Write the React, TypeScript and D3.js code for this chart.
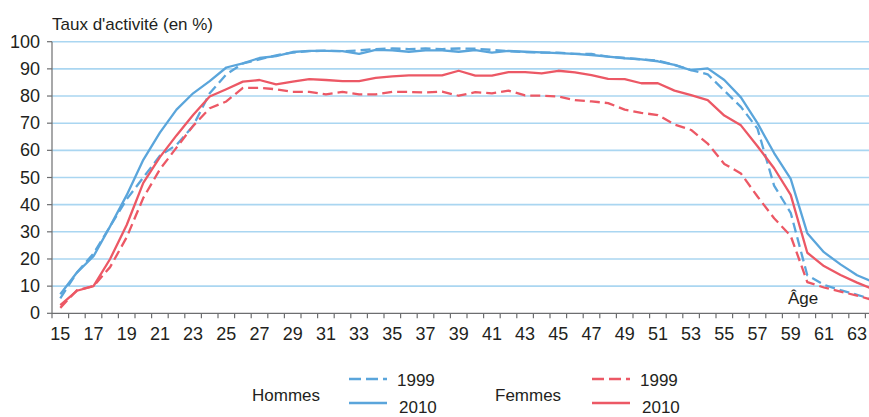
import React, { useEffect, useRef } from 'react'
import * as d3 from 'd3'

// âges 15 à 64
const ages = d3.range(15, 65)

const hommes1999 = [
  5.5, 15, 22, 32, 42, 50, 58, 62, 69, 81,
  88, 92, 93.5, 95, 96, 96.5, 96.7, 96.5, 96.8, 97.3,
  97.5, 97.3, 97.5, 97.3, 97.5, 97.4, 97, 96.5, 96.2, 96,
  96, 95.5, 95.5, 94.5, 94, 93.5, 93, 91.5, 89.5, 88,
  82, 76, 68, 47, 37, 14, 10.5, 8.5, 6.8, 5,
]
const hommes2010 = [
  7, 15, 21, 32, 43.5, 56.5, 66.5, 75, 81, 85.5,
  90.5, 92, 94, 94.7, 96.2, 96.6, 96.6, 96.5, 95.5, 97,
  96.8, 96.3, 96.8, 96.8, 96.3, 96.9, 96, 96.6, 96.3, 96.1,
  95.8, 95.5, 95.1, 94.5, 93.9, 93.5, 92.8, 91.5, 89.5, 90.2,
  85.9, 79.5, 70, 59, 49.5, 29.5, 22.5, 18, 14, 11.5,
]
const femmes1999 = [
  2, 8.5, 10, 17, 28, 42.5, 53, 61, 69, 75.5,
  78, 83, 83, 82.5, 81.5, 81.5, 80.6, 81.5, 80.6, 80.6,
  81.5, 81.5, 81.3, 81.6, 80.1, 81.4, 81, 82, 80.2, 80.1,
  79.8, 78.5, 78, 77.4, 75, 73.8, 73, 69.5, 67.5, 62.5,
  55, 51.5, 43, 35, 28.5, 11.5, 9.5, 8, 6.5, 4.8,
]
const femmes2010 = [
  3, 8.3, 10, 20, 32.5, 48, 57.5, 65.5, 73, 79.8,
  82.5, 85.3, 85.9, 84.3, 85.3, 86.2, 85.9, 85.5, 85.5, 86.7,
  87.2, 87.6, 87.6, 87.6, 89.3, 87.5, 87.5, 88.8, 88.8, 88.3,
  89.3, 88.7, 87.7, 86.3, 86.2, 84.7, 84.7, 82, 80.3, 78.5,
  72.8, 69.2, 61.5, 53.4, 43.6, 22.3, 17.4, 14.1, 11.3, 8.8,
]
const yTicks = [0, 10, 20, 30, 40, 50, 60, 70, 80, 90, 100]

const blue = '#5aa5db'
const red = '#ec5865'
const textColor = '#231f20'

export default function App() {
  const svgRef = useRef(null)

  const width = 869
  const height = 417

  useEffect(() => {
    const svg = d3.select(svgRef.current)
    svg.selectAll('*').remove()

    const left = 52
    const step = 16.6
    const x = d3
      .scaleBand()
      .domain(ages.map(String))
      .range([left, left + ages.length * step])
      .paddingInner(0)
      .paddingOuter(0)
    const y = d3.scaleLinear().domain([0, 100]).range([313.3, 41.7])

    // grille
    svg.append('g')
      .selectAll('line')
      .data(yTicks.filter((d) => d > 0))
      .enter()
      .append('line')
      .attr('x1', left)
      .attr('x2', width)
      .attr('y1', (d) => y(d))
      .attr('y2', (d) => y(d))
      .attr('stroke', '#aad6f1')
      .attr('stroke-width', 1.6)

    // axe des ordonnées
    const axisColor = '#6d6e70'
    svg.append('line')
      .attr('x1', left).attr('x2', left)
      .attr('y1', y(100)).attr('y2', y(0))
      .attr('stroke', axisColor).attr('stroke-width', 1.2)
    svg.append('g')
      .selectAll('line')
      .data(yTicks)
      .enter()
      .append('line')
      .attr('x1', left - 5).attr('x2', left)
      .attr('y1', (d) => y(d)).attr('y2', (d) => y(d))
      .attr('stroke', axisColor).attr('stroke-width', 1.2)
    svg.append('g')
      .selectAll('text')
      .data(yTicks)
      .enter()
      .append('text')
      .attr('x', 40)
      .attr('y', (d) => y(d) + 6)
      .attr('text-anchor', 'end')
      .attr('font-family', '"Liberation Sans Narrow", "Liberation Sans", Arial, sans-serif')
      .attr('font-size', 18)
      .attr('fill', textColor)
      .text((d) => d)

    // axe des abscisses
    svg.append('line')
      .attr('x1', left).attr('x2', width)
      .attr('y1', y(0)).attr('y2', y(0))
      .attr('stroke', axisColor).attr('stroke-width', 1.2)
    svg.append('g')
      .selectAll('line')
      .data(ages)
      .enter()
      .append('line')
      .attr('x1', (d) => x(String(d)))
      .attr('x2', (d) => x(String(d)))
      .attr('y1', y(0)).attr('y2', y(0) + 5)
      .attr('stroke', axisColor).attr('stroke-width', 1.2)
    svg.append('g')
      .selectAll('text')
      .data(ages.filter((d) => d % 2 === 1))
      .enter()
      .append('text')
      .attr('x', (d) => x(String(d)) + x.bandwidth() / 2)
      .attr('y', 339.5)
      .attr('text-anchor', 'middle')
      .attr('font-family', '"Liberation Sans Narrow", "Liberation Sans", Arial, sans-serif')
      .attr('font-size', 18)
      .attr('fill', textColor)
      .text((d) => d)

    // courbes
    const series = [
      { values: hommes1999, color: blue, dash: '10,5' },
      { values: femmes1999, color: red, dash: '10,5' },
      { values: hommes2010, color: blue, dash: null },
      { values: femmes2010, color: red, dash: null },
    ]
    const line = d3
      .line()
      .x((d, i) => x(String(ages[i])) + x.bandwidth() / 2)
      .y((d) => y(d))

    series.forEach((s) => {
      svg.append('path')
        .attr('d', line(s.values))
        .attr('fill', 'none')
        .attr('stroke', s.color)
        .attr('stroke-width', 2.3)
        .attr('stroke-linejoin', 'round')
        .attr('stroke-dasharray', s.dash)
    })

    // titres
    svg.append('text')
      .attr('x', 52).attr('y', 30)
      .attr('font-family', '"Liberation Sans", Arial, sans-serif')
      .attr('font-size', 17)
      .attr('fill', textColor)
      .text("Taux d'activité (en %)")
    svg.append('text')
      .attr('x', 788).attr('y', 304)
      .attr('font-family', '"Liberation Sans", Arial, sans-serif')
      .attr('font-size', 17)
      .attr('fill', textColor)
      .text('Âge')

    // légende
    const legend = [
      { label: 'Hommes', lx: 252, x0: 349, color: blue },
      { label: 'Femmes', lx: 495, x0: 592, color: red },
    ]
    legend.forEach((l) => {
      const g = svg.append('g')
      g.append('text')
        .attr('x', l.lx).attr('y', 401)
        .attr('font-family', '"Liberation Sans", Arial, sans-serif')
        .attr('font-size', 17)
        .attr('fill', textColor)
        .text(l.label)
      g.append('line')
        .attr('x1', l.x0).attr('x2', l.x0 + 38)
        .attr('y1', 379).attr('y2', 379)
        .attr('stroke', l.color).attr('stroke-width', 2.3)
        .attr('stroke-dasharray', '12,5')
      g.append('line')
        .attr('x1', l.x0).attr('x2', l.x0 + 38)
        .attr('y1', 403).attr('y2', 403)
        .attr('stroke', l.color).attr('stroke-width', 2.3)
      g.append('text')
        .attr('x', l.x0 + 48).attr('y', 386)
        .attr('font-family', '"Liberation Sans", Arial, sans-serif')
        .attr('font-size', 17)
        .attr('fill', textColor)
        .text('1999')
      g.append('text')
        .attr('x', l.x0 + 50).attr('y', 413)
        .attr('font-family', '"Liberation Sans", Arial, sans-serif')
        .attr('font-size', 17)
        .attr('fill', textColor)
        .text('2010')
    })
  }, [])

  return (
    <svg
      ref={svgRef}
      width={width}
      height={height}
      style={{ position: 'absolute', left: 0, top: 0, background: '#ffffff' }}
    />
  )
}
